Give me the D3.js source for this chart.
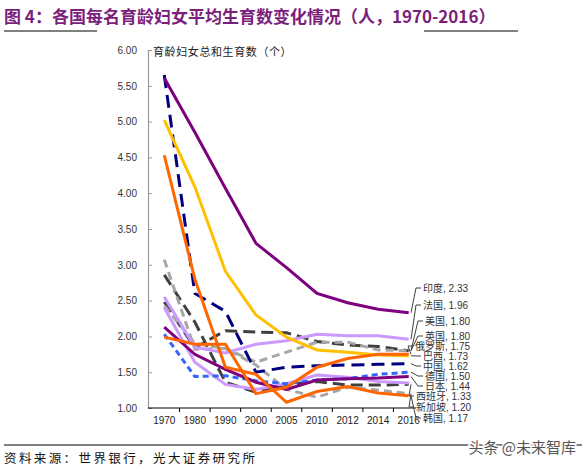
<!DOCTYPE html>
<html><head><meta charset="utf-8">
<script src="https://cdn.jsdelivr.net/npm/d3@7"></script>
<style>body{margin:0;background:#fff} svg{display:block}</style>
</head><body>
<svg id="c" width="586" height="468"></svg>
<script>
// ---- data ----
const years = ["1970","1980","1990","2000","2005","2010","2012","2014","2016"];
const yTicks = [1.00,1.50,2.00,2.50,3.00,3.50,4.00,4.50,5.00,5.50,6.00];
const india     = [5.61,4.85,4.07,3.30,2.96,2.60,2.47,2.38,2.33];
const france    = [2.55,1.85,1.77,1.89,1.94,2.03,2.01,2.01,1.96];
const usa       = [2.48,1.84,2.08,2.06,2.05,1.93,1.88,1.86,1.80];
const uk        = [2.43,1.90,1.83,1.64,1.78,1.92,1.92,1.81,1.80];
const russia    = [1.99,1.89,1.89,1.20,1.29,1.57,1.69,1.75,1.75];
const brazil    = [5.02,4.09,2.91,2.30,1.99,1.81,1.78,1.74,1.73];
const china     = [5.65,2.60,2.35,1.50,1.57,1.59,1.60,1.61,1.62];
const germany   = [2.03,1.44,1.45,1.38,1.34,1.39,1.41,1.47,1.50];
const japan     = [2.13,1.75,1.54,1.36,1.26,1.39,1.41,1.42,1.44];
const italy     = [2.40,1.64,1.33,1.26,1.34,1.46,1.43,1.37,1.35];
const spain     = [2.86,2.20,1.36,1.22,1.33,1.37,1.32,1.32,1.33];
const singapore = [3.07,1.82,1.83,1.60,1.26,1.15,1.29,1.25,1.20];
const korea     = [4.53,2.80,1.57,1.47,1.08,1.23,1.30,1.21,1.17];

const labelNames = ["印度","法国","美国","英国","俄罗斯","巴西","中国","德国","日本","西班牙","新加坡","韩国"];
const labelSeries = [india,france,usa,uk,russia,brazil,china,germany,japan,spain,singapore,korea];

// ---- styles (draw order) ----
const drawList = [
  {v: usa,       c:"#404040", d:"12,6"},
  {v: spain,     c:"#404040", d:"12,6"},
  {v: uk,        c:"#A6A6A6", d:"8,5"},
  {v: singapore, c:"#A6A6A6", d:"8,5"},
  {v: france,    c:"#CC99FF", d:null},
  {v: italy,     c:"#CC99FF", d:null},
  {v: germany,   c:"#3366FF", d:"6,4"},
  {v: japan,     c:"#7F007F", d:null},
  {v: china,     c:"#000080", d:"13,7"},
  {v: brazil,    c:"#FFC000", d:null},
  {v: india,     c:"#7F007F", d:null},
  {v: russia,    c:"#FF6600", d:null},
  {v: korea,     c:"#FF6600", d:null}
];
const labelLayout = [288,305,321,336,346,356,366,376,386,396,407,418];
const labelX = [423,423,425,425,415,423,423,425,425,416,416,423];

const svg = d3.select("#c");
const x = d3.scaleBand().domain(years).range([149,424]).paddingInner(0).paddingOuter(0);
const y = d3.scaleLinear().domain([1,6]).range([408,50]);
const cx = d => x(d) + x.bandwidth()/2;

// title
svg.append("text").attr("x",4).attr("y",23)
  .attr("font-family","'Noto Sans CJK SC','Liberation Sans',sans-serif")
  .attr("font-weight","bold").attr("font-size",17).attr("fill","#7B1F7C")
  .text("图 4：各国每名育龄妇女平均生育数变化情况（人，1970-2016）");
svg.append("line").attr("x1",4).attr("x2",97).attr("y1",31).attr("y2",31).attr("stroke","#000").attr("stroke-width",1);
svg.append("line").attr("x1",424).attr("x2",518).attr("y1",31).attr("y2",31).attr("stroke","#000").attr("stroke-width",1);

// y axis
const yAxis = d3.axisLeft(y).tickValues(yTicks).tickFormat(d3.format(".2f")).tickSize(-4).tickPadding(11);
const gy = svg.append("g").attr("transform","translate(148,0)").call(yAxis);
gy.select(".domain").attr("stroke","#999").attr("stroke-width",1.2);
gy.selectAll(".tick line").attr("stroke","#999");
gy.selectAll("text").attr("font-family","'Liberation Sans',Arial,sans-serif").attr("font-size",10).attr("fill","#333");

svg.append("text").attr("x",153).attr("y",56)
  .attr("font-family","'Noto Sans CJK SC',sans-serif").attr("font-size",11)
  .attr("letter-spacing",0.6).attr("fill","#222")
  .text("育龄妇女总和生育数（个）");

// x axis
svg.append("line").attr("x1",148).attr("x2",416).attr("y1",408).attr("y2",408).attr("stroke","#000").attr("stroke-width",1.2);
svg.selectAll(".xt").data(years.slice(1)).enter().append("line")
  .attr("x1",d=>x(d)).attr("x2",d=>x(d)).attr("y1",408).attr("y2",412).attr("stroke","#000");
svg.selectAll(".xl").data(years).enter().append("text")
  .attr("x",d=>cx(d)).attr("y",424).attr("text-anchor","middle")
  .attr("font-family","'Liberation Sans',Arial,sans-serif").attr("font-size",10).attr("fill","#222")
  .text(d=>d);

// lines
const line = d3.line().x((d,i)=>cx(years[i])).y(d=>y(d));
drawList.forEach(s=>{
  svg.append("path").attr("d",line(s.v)).attr("fill","none")
    .attr("stroke",s.c).attr("stroke-width",3).attr("stroke-linejoin","miter")
    .attr("stroke-dasharray",s.d);
});

// labels with leader lines
labelSeries.forEach((s,i)=>{
  const yv = y(s[s.length-1]);
  const ly = labelLayout[i];
  const lx = labelX[i];
  svg.append("path").attr("d",`M${lx-2},${ly} H${lx-7} L${411},${yv}`)
    .attr("fill","none").attr("stroke","#404040").attr("stroke-width",1);
  svg.append("text").attr("x",lx).attr("y",ly+3.5)
    .attr("font-family","'Liberation Sans',Arial,'Noto Sans CJK SC',sans-serif").attr("font-size",10).attr("fill","#333")
    .text(`${labelNames[i]}, ${s[s.length-1].toFixed(2)}`);
});

// footer
svg.append("line").attr("x1",4).attr("x2",582).attr("y1",445).attr("y2",445).attr("stroke","#000").attr("stroke-width",1);
svg.append("text").attr("x",4).attr("y",463)
  .attr("font-family","'Noto Sans CJK SC',sans-serif").attr("font-size",12.5).attr("letter-spacing",2.4).attr("fill","#111")
  .text("资料来源：世界银行，光大证券研究所");
svg.append("text").attr("x",576).attr("y",453).attr("text-anchor","end")
  .attr("font-family","'Noto Sans CJK SC',sans-serif").attr("font-size",15)
  .attr("fill","#555").attr("stroke","#fff").attr("stroke-width",3).attr("paint-order","stroke")
  .text("头条 @未来智库");
</script>
</body></html>
